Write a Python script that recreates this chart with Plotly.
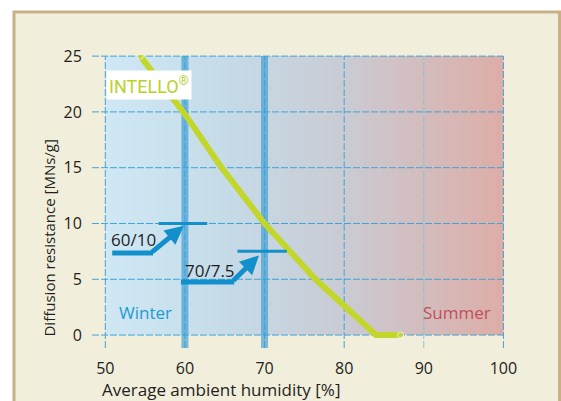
import plotly.graph_objects as go

# ---------------- data ----------------
humidity = [54.4, 60, 64.6, 70, 76.4, 80, 84, 87.1]
resistance = [25, 19.8, 15, 10, 5, 2.6, 0, 0]

x_ticks = [50, 60, 70, 80, 90, 100]
y_ticks = [0, 5, 10, 15, 20, 25]
marked_humidity = [60, 70]
marked_resistance = [10, 7.5]
marker_labels = ["60/10", "70/7.5"]
season_labels = ["Winter", "Summer"]
x_title = "Average ambient humidity [%]"
y_title = "Diffusion resistance [MNs/g]"
product = "INTELLO"

# ---------------- styling ----------------
FONT = "Open Sans"
GRID = "#3ea4d6"
ARROW = "#1290cb"
GREEN = "#c3d62b"
DASH = "7px,2px"

X0, X1 = x_ticks[0], x_ticks[-1]
Y0, Y1 = y_ticks[0], y_ticks[-1]
XEXT = X0 - 1.67     # dashed tick extension to the left
YEXT = Y0 - 1.16     # dashed tick extension below

fig = go.Figure()

# gradient background of the plot region
fig.add_trace(go.Scatter(
    x=[X0, X1, X1, X0, X0], y=[Y0, Y0, Y1, Y1, Y0],
    mode="lines", line=dict(width=0), fill="toself",
    fillgradient=dict(type="horizontal",
                      colorscale=[[0, "#d0e8f5"], [0.3, "#c5dbe8"],
                                  [0.6, "#cacbd3"], [1, "#ddada7"]]),
    hoverinfo="skip", showlegend=False))

# highlighted humidity bands
for v in marked_humidity:
    fig.add_trace(go.Scatter(x=[v, v], y=[YEXT, Y1], mode="lines",
                             line=dict(color="rgba(45,150,210,0.6)", width=7),
                             hoverinfo="skip", showlegend=False))

# dashed grid with extensions
for t in x_ticks:
    col = "#8fc0d2" if t == 90 else GRID
    fig.add_trace(go.Scatter(x=[t, t], y=[YEXT, Y1], mode="lines",
                             line=dict(color=col, width=1, dash=DASH),
                             hoverinfo="skip", showlegend=False))
for t in y_ticks:
    fig.add_trace(go.Scatter(x=[XEXT, X1], y=[t, t], mode="lines",
                             line=dict(color=GRID, width=1, dash=DASH),
                             hoverinfo="skip", showlegend=False))

# INTELLO curve
sizes = [6] + [0] * (len(humidity) - 2) + [6]
fig.add_trace(go.Scatter(x=humidity, y=resistance, mode="lines+markers",
                         line=dict(color=GREEN, width=6),
                         marker=dict(color=GREEN, size=sizes),
                         hoverinfo="skip", showlegend=False))

# marker lines at the read-off values
spans = [(56.7, 62.8), (66.6, 72.8)]
for (a, b), r in zip(spans, marked_resistance):
    fig.add_trace(go.Scatter(x=[a, b], y=[r, r], mode="lines",
                             line=dict(color=ARROW, width=3),
                             hoverinfo="skip", showlegend=False))

# arrows: tail start, bend, tip
arrows = [((50.87, 7.35), (55.7, 7.35), (59.87, 9.8)),
          ((59.5, 4.76), (65.9, 4.76), (69.3, 7.14))]
for s, b, t in arrows:
    fig.add_trace(go.Scatter(x=[s[0], b[0] + 0.3], y=[s[1], b[1]], mode="lines",
                             line=dict(color=ARROW, width=5),
                             hoverinfo="skip", showlegend=False))
    fig.add_annotation(x=t[0], y=t[1], ax=b[0], ay=b[1], axref="x", ayref="y",
                       xref="x", yref="y", text="", showarrow=True,
                       arrowhead=2, arrowsize=0.75, arrowwidth=5,
                       arrowcolor=ARROW, standoff=0)

label_pos = [(50.5, 8.6), (59.8, 5.8)]
for txt, (lx, ly) in zip(marker_labels, label_pos):
    fig.add_annotation(x=lx, y=ly, text=txt, showarrow=False, xanchor="left",
                       yanchor="middle", font=dict(family=FONT, size=17, color="#1e1e1e"))

# season labels
fig.add_annotation(x=51.5, y=2.06, text=season_labels[0], showarrow=False,
                   xanchor="left", yanchor="middle",
                   font=dict(family=FONT, size=17, color="#1c9bd3"))
fig.add_annotation(x=98.7, y=2.06, text=season_labels[1], showarrow=False,
                   xanchor="right", yanchor="middle",
                   font=dict(family=FONT, size=17, color="#c1505c"))

# product badge
fig.add_annotation(x=50.15, y=22.45, text=product + "<sup>®</sup>", showarrow=False,
                   xanchor="left", yanchor="middle", bgcolor="white", borderpad=2,
                   font=dict(family="Roboto", size=18, color="#b9d12a"))

# axis titles (paper coordinates)
fig.add_annotation(x=0.0194, y=-0.143, xref="paper", yref="paper", text=x_title,
                   showarrow=False, xanchor="left", yanchor="middle",
                   font=dict(family=FONT, size=17, color="#231f20"))
fig.add_annotation(x=-0.1065, y=0.3737, xref="paper", yref="paper", text=y_title,
                   showarrow=False, textangle=-90, xanchor="center", yanchor="middle",
                   font=dict(family=FONT, size=15, color="#231f20"))

# beige panel with tan border
fig.add_shape(type="rect", xref="paper", yref="paper",
              x0=-0.1889, x1=1.132, y0=-0.30, y1=1.1468,
              fillcolor="#f2eedc", line=dict(color="#c8b088", width=3), layer="below")

fig.update_layout(
    width=561, height=401,
    margin=dict(l=92, r=56, t=55, b=53),
    paper_bgcolor="white", plot_bgcolor="rgba(0,0,0,0)",
    hovermode=False, showlegend=False,
    font=dict(family=FONT, color="#231f20"),
)
fig.update_xaxes(range=[XEXT, X1 + 0.2], tickvals=x_ticks, showgrid=False,
                 zeroline=False, showline=False, ticks="outside", ticklen=6,
                 tickcolor="rgba(0,0,0,0)", tickfont=dict(size=16, family=FONT))
fig.update_yaxes(range=[YEXT, Y1 + 0.1], tickvals=y_ticks, showgrid=False,
                 zeroline=False, showline=False, ticks="outside", ticklen=6,
                 tickcolor="rgba(0,0,0,0)", tickfont=dict(size=16, family=FONT))

fig.write_html(
    "out.html",
    config={"displayModeBar": False, "staticPlot": True},
    post_script="document.body.style.margin='0';"
                "document.documentElement.style.overflow='hidden';"
                "document.body.style.overflow='hidden';",
)
